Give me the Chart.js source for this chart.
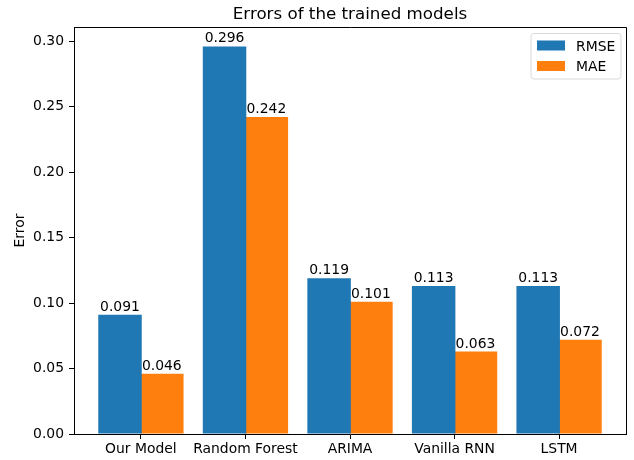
<!DOCTYPE html>
<html>
<head>
<meta charset="utf-8">
<script src="https://cdn.jsdelivr.net/npm/chart.js@4.4.0/dist/chart.umd.min.js"></script>
<style>
  html, body { margin: 0; padding: 0; background: #fff; }
  #wrap { width: 634px; height: 460px; }
</style>
</head>
<body>
<div id="wrap"><canvas id="errChart" width="634" height="460"></canvas></div>
<script>
// data
const models = ['Our Model', 'Random Forest', 'ARIMA', 'Vanilla RNN', 'LSTM'];
const rmse = [0.091, 0.296, 0.119, 0.113, 0.113];
const mae = [0.046, 0.242, 0.101, 0.063, 0.072];
const yTicks = [0.00, 0.05, 0.10, 0.15, 0.20, 0.25, 0.30];

const FONT = 'DejaVu Sans';

// matplotlib-ish bits: title, ylabel, value labels, top/right spines, legend
const extras = {
  id: 'extras',
  afterDatasetsDraw(chart) {
    const ctx = chart.ctx;
    const a = chart.chartArea;
    ctx.save();

    // bar value labels
    ctx.font = '13.9px "' + FONT + '"';
    ctx.fillStyle = '#000';
    ctx.textAlign = 'center';
    ctx.textBaseline = 'alphabetic';
    chart.data.datasets.forEach((ds, di) => {
      chart.getDatasetMeta(di).data.forEach((bar, i) => {
        ctx.fillText(ds.data[i].y.toFixed(3), bar.x, bar.y - 4);
      });
    });

    // top and right spines
    ctx.strokeStyle = '#000';
    ctx.lineWidth = 1;
    ctx.beginPath();
    ctx.moveTo(a.left, a.top + 0.5);
    ctx.lineTo(a.right + 0.5, a.top + 0.5);
    ctx.lineTo(a.right + 0.5, a.bottom);
    ctx.stroke();

    // title
    ctx.font = '16.7px "' + FONT + '"';
    ctx.textBaseline = 'alphabetic';
    ctx.fillText('Errors of the trained models', (a.left + a.right) / 2, 19);

    // y label
    ctx.save();
    ctx.translate(24, (a.top + a.bottom) / 2);
    ctx.rotate(-Math.PI / 2);
    ctx.font = '13.9px "' + FONT + '"';
    ctx.fillText('Error', 0, 0);
    ctx.restore();

    // legend
    const lx = 531, ly = 33.5, lw = 90, lh = 45.5;
    ctx.beginPath();
    ctx.roundRect(lx, ly, lw, lh, 3);
    ctx.fillStyle = 'rgba(255,255,255,0.8)';
    ctx.fill();
    ctx.strokeStyle = '#d9d9d9';
    ctx.stroke();
    ctx.font = '13.9px "' + FONT + '"';
    ctx.textAlign = 'left';
    chart.data.datasets.forEach((ds, di) => {
      const y = ly + 7 + di * 20.5;
      ctx.fillStyle = ds.backgroundColor;
      ctx.fillRect(lx + 6, y, 28, 10);
      ctx.fillStyle = '#000';
      ctx.fillText(ds.label, lx + 45, y + 10);
    });

    ctx.restore();
  }
};

new Chart(document.getElementById('errChart'), {
  type: 'bar',
  data: {
    datasets: [
      { label: 'RMSE', data: models.map((m, i) => ({ x: i, y: rmse[i] })), backgroundColor: '#1f77b4' },
      { label: 'MAE', data: models.map((m, i) => ({ x: i, y: mae[i] })), backgroundColor: '#ff7f0e' }
    ]
  },
  options: {
    responsive: false,
    animation: false,
    layout: { padding: { top: 27, right: 8, left: 0, bottom: 0 } },
    // slightly over 1 so the two bars of a group meet without a seam
    datasets: { bar: { categoryPercentage: 0.8, barPercentage: 1.04, borderWidth: 0, inflateAmount: 0 } },
    plugins: { legend: { display: false }, title: { display: false }, tooltip: { enabled: false } },
    scales: {
      x: {
        type: 'linear',
        offset: false,
        min: -0.64,
        max: 4.64,
        afterBuildTicks: (s) => { s.ticks = models.map((m, i) => ({ value: i })); },
        afterFit: (s) => { s.height = 26; },
        ticks: {
          callback: (v) => models[v],
          color: '#000',
          font: { family: FONT, size: 13.9 },
          padding: 2,
          maxRotation: 0,
          autoSkip: false
        },
        grid: { display: true, offset: false, drawOnChartArea: false, drawTicks: true, tickLength: 5, color: '#000' },
        border: { display: true, color: '#000', width: 1 }
      },
      y: {
        min: 0,
        max: 0.3108,
        afterBuildTicks: (s) => { s.ticks = yTicks.map(v => ({ value: v })); },
        afterFit: (s) => { s.width = 74; },
        ticks: {
          callback: (v) => v.toFixed(2),
          color: '#000',
          font: { family: FONT, size: 13.9 },
          padding: 5
        },
        grid: { display: true, drawOnChartArea: false, drawTicks: true, tickLength: 5, color: '#000' },
        border: { display: true, color: '#000', width: 1 }
      }
    }
  },
  plugins: [extras]
});
</script>
</body>
</html>
